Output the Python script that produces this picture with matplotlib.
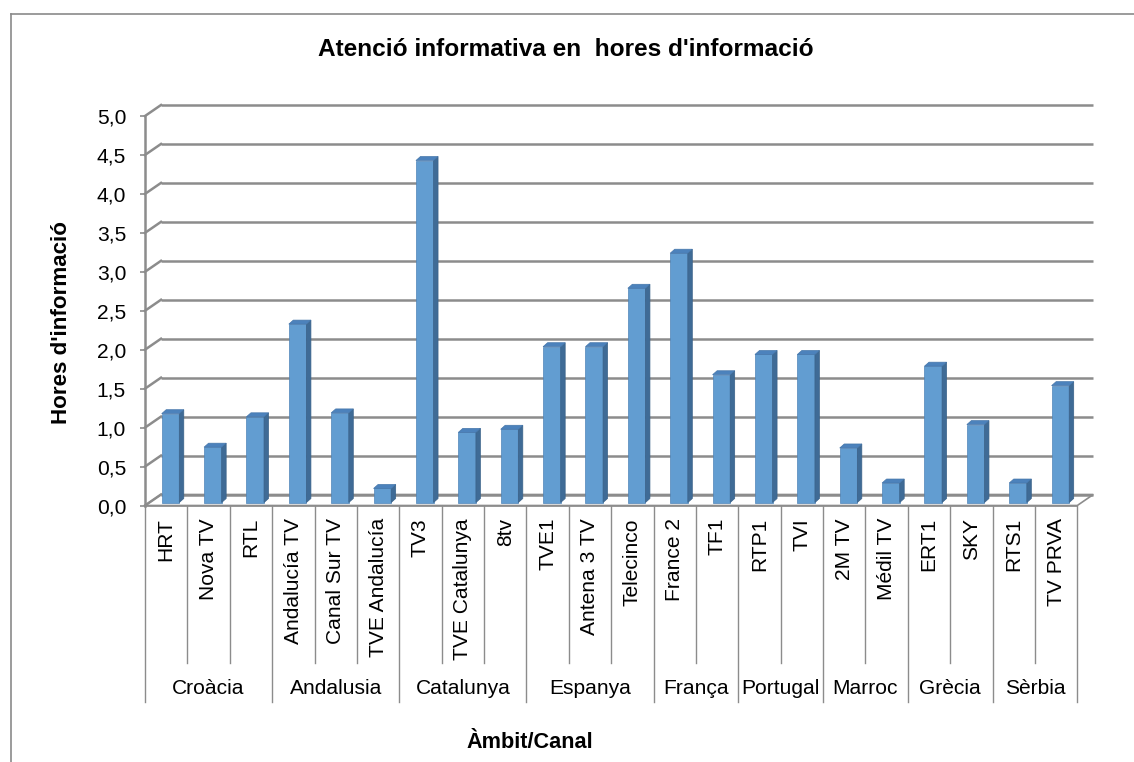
import numpy as np
import matplotlib
matplotlib.use("Agg")
import matplotlib.pyplot as plt
from matplotlib.patches import Polygon
from matplotlib.lines import Line2D

plt.rcParams['font.family'] = ['Liberation Sans', 'DejaVu Sans']

# dades
canals = ['HRT', 'Nova TV', 'RTL', 'Andalucía TV', 'Canal Sur TV', 'TVE Andalucía',
          'TV3', 'TVE Catalunya', '8tv', 'TVE1', 'Antena 3 TV', 'Telecinco',
          'France 2', 'TF1', 'RTP1', 'TVI', '2M TV', 'Médil TV', 'ERT1', 'SKY',
          'RTS1', 'TV PRVA']
hores = [1.14, 0.71, 1.10, 2.29, 1.15, 0.18,
         4.39, 0.90, 0.94, 2.00, 2.00, 2.75,
         3.20, 1.64, 1.90, 1.90, 0.70, 0.25, 1.75, 1.00,
         0.25, 1.50]
ambits = ['Croàcia', 'Andalusia', 'Catalunya', 'Espanya', 'França', 'Portugal',
          'Marroc', 'Grècia', 'Sèrbia']
n_per_ambit = [3, 3, 3, 3, 2, 2, 2, 2, 2]

W, H = 1134, 762
fig = plt.figure(figsize=(W / 100, H / 100), dpi=100)

# posicio de l'eix (px)
X0, X1 = 145, 1077.3
Y0, Y1 = 505.5, 116
ax = fig.add_axes([X0 / W, 1 - Y0 / H, (X1 - X0) / W, (Y0 - Y1) / H])
n = len(canals)
ax.set_xlim(-0.5, n - 0.5)
ax.set_ylim(0, 5)
sx = n / (X1 - X0)   # dades per px
sy = 5 / (Y0 - Y1)

grey = '#8c8c8c'
fs = 15.1

# profunditat 3D
ddx, ddy = 16 * sx, 11 * sy

# terra
floor = Polygon([(-0.5, 0), (n - 0.5, 0), (n - 0.5 + ddx, ddy), (-0.5 + ddx, ddy)],
                closed=True, facecolor='white', edgecolor=grey, lw=1.2,
                clip_on=False, zorder=1)
ax.add_patch(floor)

# graella a la paret del fons i a la paret esquerra
for v in np.arange(0, 5.01, 0.5):
    ax.plot([-0.5 + ddx, n - 0.5 + ddx], [v + ddy, v + ddy], color=grey, lw=1.8,
            clip_on=False, zorder=1.5, solid_capstyle='butt')
    ax.plot([-0.5, -0.5 + ddx], [v, v + ddy], color=grey, lw=1.8,
            clip_on=False, zorder=1.5)

# barres
bx, by = 4.3 * sx, 3 * sy
bw = 17.6 * sx
sdx, sdy = 4.5 * sx, 4 * sy
x = np.arange(n)
ax.bar(x + bx, hores, width=bw, bottom=by, color='#629DD1', edgecolor='#4f84b8',
       lw=0.5, zorder=3, clip_on=False)
for xi, v in zip(x, hores):
    xl = xi + bx - bw / 2
    xr = xi + bx + bw / 2
    top = by + v
    side = Polygon([(xr, by), (xr, top), (xr + sdx, top + sdy), (xr + sdx, by + sdy)],
                   closed=True, facecolor='#3F6B96', edgecolor='#3a6289', lw=0.5,
                   zorder=3, clip_on=False)
    cap = Polygon([(xl, top), (xr, top), (xr + sdx, top + sdy), (xl + sdx, top + sdy)],
                  closed=True, facecolor='#4C82BC', edgecolor='#4576aa', lw=0.5,
                  zorder=3, clip_on=False)
    ax.add_patch(side)
    ax.add_patch(cap)

# eix vertical
for s in ['top', 'right', 'bottom']:
    ax.spines[s].set_visible(False)
ax.spines['left'].set_color(grey)
ax.spines['left'].set_linewidth(1.8)
yt = np.arange(0, 5.01, 0.5)
ax.set_yticks(yt)
ax.set_yticklabels([f'{v:.1f}'.replace('.', ',') for v in yt], fontsize=fs)
ax.tick_params(axis='y', length=3.6, width=1.2, color=grey, pad=10)
ax.set_xticks([])
ax.patch.set_visible(False)

# etiquetes de categoria
short_y = -(663 - Y0) * sy
long_y = -(702 - Y0) * sy
bounds = np.concatenate([[0], np.cumsum(n_per_ambit)])
for k in range(n + 1):
    yb = long_y if k in bounds else short_y
    ax.plot([k - 0.5, k - 0.5], [0, yb], color=grey, lw=1.0, clip_on=False, zorder=2)
ax.plot([-0.5, n - 0.5], [0, 0], color=grey, lw=1.2, clip_on=False, zorder=2)

for xi, name in zip(x, canals):
    ax.text(xi, -(518 - Y0) * sy, name, rotation=90, ha='center', va='top',
            fontsize=fs, clip_on=False)
for k, amb in enumerate(ambits):
    xc = (bounds[k] + bounds[k + 1]) / 2 - 0.5
    ax.text(xc, -(688 - Y0) * sy, amb, ha='center', va='center', fontsize=fs)

# titols
fig.text(566 / W, 1 - 49 / H, "Atenció informativa en  hores d'informació",
         ha='center', va='center', fontsize=17.6, fontweight='bold')
fig.text(61.7 / W, 1 - 322.5 / H, "Hores d'informació", rotation=90,
         ha='center', va='center', fontsize=16.1, fontweight='bold')
fig.text(530 / W, 1 - 742 / H, "Àmbit/Canal", ha='center', va='center',
         fontsize=15.6, fontweight='bold')

# marc del grafic
fig.add_artist(Line2D([11 / W, 11 / W], [0, 1 - 14 / H], color='#8a8a8a', lw=1.2))
fig.add_artist(Line2D([11 / W, 1], [1 - 14 / H, 1 - 14 / H], color='#8a8a8a', lw=1.2))

fig.savefig('out.png', dpi=100)
